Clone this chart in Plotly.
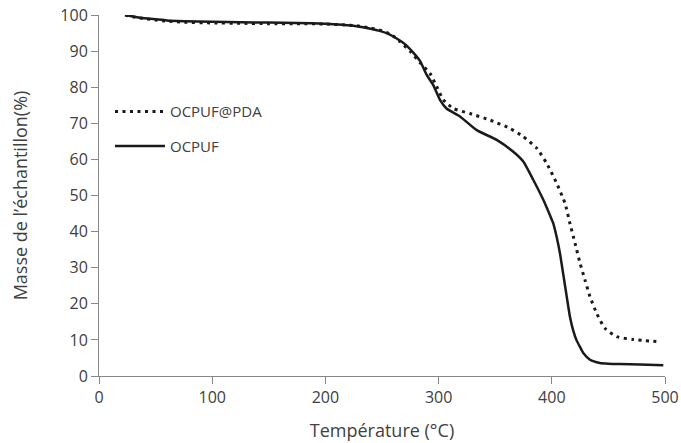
import plotly.graph_objects as go

# OCPUF (solid)
temp_ocpuf = [23, 30, 40, 50, 60, 75, 100, 125, 150, 175, 200, 215, 228, 240, 248, 256,
              263, 270, 277.6, 283.6, 289.5, 295.3, 301.2, 307, 318.9, 333.7, 351.3, 366,
              374.8, 383.7, 392.5, 398.4, 401.3, 404.3, 407.2, 410.2, 413.2, 416, 419, 422,
              425, 428, 433.7, 442.5, 450, 460, 478, 498.5]
mass_ocpuf = [100, 99.6, 99.1, 98.8, 98.5, 98.3, 98.1, 98.0, 97.9, 97.8, 97.6, 97.3,
              96.9, 96.2, 95.6, 94.7, 93.5, 92.0, 89.6, 87.3, 83.4, 80.6, 76.5, 74.1,
              71.9, 68.1, 65.4, 62.1, 59.4, 54.3, 48.8, 44.5, 42.3, 38.5, 34.0, 28.0,
              22.0, 16.5, 12.5, 9.8, 8.0, 6.3, 4.5, 3.6, 3.4, 3.3, 3.2, 3.0]

# OCPUF@PDA (dotted)
temp_pda = [23, 30, 40, 50, 60, 75, 100, 125, 150, 175, 200, 215, 228, 240, 250, 258,
            266, 275, 283.6, 292.4, 298.3, 304.2, 313, 327.7, 345.4, 363, 374.8, 386.7,
            395.5, 404.3, 411.7, 416, 420.5, 425, 429.3, 433.7, 439.7, 447, 457.3, 472,
            495.6]
mass_pda = [100, 99.5, 99.0, 98.6, 98.3, 98.0, 97.8, 97.7, 97.6, 97.6, 97.5, 97.3,
            97.0, 96.4, 95.6, 94.6, 92.6, 89.9, 86.8, 83.8, 80.2, 76.5, 74.1, 72.7,
            70.9, 68.6, 66.3, 63.1, 58.9, 53.4, 47.8, 42.3, 36.8, 31.2, 26.6, 22.0,
            17.3, 13.2, 10.9, 10.1, 9.5]

x_ticks = [0, 100, 200, 300, 400, 500]
y_ticks = [0, 10, 20, 30, 40, 50, 60, 70, 80, 90, 100]

text_color = "#404040"
axis_color = "#868686"
font_family = "Open Sans, Lato, sans-serif"

fig = go.Figure()
fig.add_trace(go.Scatter(
    x=temp_pda, y=mass_pda, mode="lines", name="OCPUF@PDA",
    legendgroup="a",
    line=dict(color="#1a1a1a", width=3, dash="3px,4.5px", shape="spline", smoothing=0.5),
))
fig.add_trace(go.Scatter(
    x=temp_ocpuf, y=mass_ocpuf, mode="lines", name="OCPUF",
    legendgroup="b",
    line=dict(color="#1a1a1a", width=2.5, shape="spline", smoothing=0.5),
))

fig.update_layout(
    width=681, height=443,
    margin=dict(l=99, r=16, t=15, b=67, autoexpand=False),
    paper_bgcolor="white", plot_bgcolor="white",
    font=dict(family=font_family, size=15, color=text_color),
    showlegend=True,
    legend=dict(
        x=0.0194, y=0.778, xanchor="left", yanchor="top",
        bgcolor="rgba(0,0,0,0)", font=dict(size=15, color=text_color),
        tracegroupgap=12, traceorder="grouped", itemwidth=50,
    ),
    xaxis=dict(
        range=[0, 500], tickvals=x_ticks, ticktext=[str(v) for v in x_ticks],
        showgrid=False, zeroline=False, showline=True, linecolor=axis_color, linewidth=1,
        ticks="outside", ticklen=7, tickcolor=axis_color, automargin=False,
        tickfont=dict(size=16), ticklabeloverflow="allow",
        title=dict(text="Température (°C)", standoff=17),
    ),
    yaxis=dict(
        range=[0, 100], tickvals=y_ticks, ticktext=[str(v) for v in y_ticks],
        showgrid=False, zeroline=False, showline=True, linecolor=axis_color, linewidth=1,
        ticks="outside", ticklen=7, tickcolor=axis_color, automargin=False,
        tickfont=dict(size=16), ticklabeloverflow="allow",
        title=dict(text="Masse de l’échantillon(%)", standoff=28),
    ),
)

# remove the default 8px page margin so the figure fills the window exactly
fig.write_html("out.html", config={"displayModeBar": False},
               post_script="document.body.style.margin='0';")
